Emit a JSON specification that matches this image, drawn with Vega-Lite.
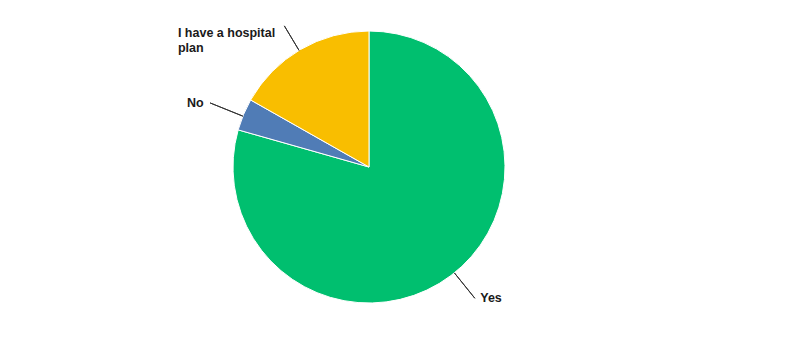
{
  "$schema": "https://vega.github.io/schema/vega-lite/v6.json",
  "width": 738,
  "height": 334,
  "padding": {"left": 0, "top": 0, "right": 52, "bottom": 17},
  "autosize": {"type": "none"},
  "background": "white",
  "config": {"view": {"stroke": null}},
  "datasets": {
    "slices": [
      {"answer": "Yes", "pct": 79.4, "ord": 1},
      {"answer": "No", "pct": 3.8, "ord": 2},
      {"answer": "I have a hospital plan", "pct": 16.8, "ord": 3}
    ],
    "labels": [
      {"answer": "Yes", "label": "Yes", "textAngle": 38.06, "textDist": 1.316, "lineAngle": 39.2, "lineFrom": 1.0, "lineTo": 1.24},
      {"answer": "No", "label": "No", "textAngle": 80.6, "textDist": 1.36, "lineAngle": 81.1, "lineFrom": 1.0, "lineTo": 1.26},
      {"answer": "I have a hospital plan", "label": "I have a hospital\nplan", "textAngle": 84.76, "textDist": 1.718, "lineAngle": 91.4, "lineFrom": 1.0, "lineTo": 1.21}
    ]
  },
  "layer": [
    {
      "data": {"name": "slices"},
      "mark": {"type": "arc", "outerRadius": 136, "stroke": "white", "strokeWidth": 1},
      "encoding": {
        "theta": {"field": "pct", "type": "quantitative", "stack": true, "scale": {"domain": [0, 100]}},
        "order": {"field": "ord", "type": "quantitative"},
        "color": {
          "field": "answer",
          "type": "nominal",
          "scale": {"domain": ["Yes", "No", "I have a hospital plan"], "range": ["#00BF6F", "#507CB6", "#F9BE00"]},
          "legend": null
        }
      }
    },
    {
      "data": {"name": "labels"},
      "mark": {"type": "arc", "stroke": "#333333", "strokeWidth": 1, "fill": null},
      "encoding": {
        "theta": {"field": "lineAngle", "type": "quantitative", "stack": null, "scale": {"domain": [0, 100]}},
        "theta2": {"field": "lineAngle"},
        "radius": {"field": "lineFrom", "type": "quantitative", "scale": {"type": "linear", "domain": [0, 1], "range": [0, 136], "zero": true}},
        "radius2": {"field": "lineTo"}
      }
    },
    {
      "data": {"name": "labels"},
      "transform": [{"filter": "datum.answer !== 'I have a hospital plan'"}],
      "mark": {"type": "text", "font": "Liberation Sans", "fontSize": 12.5, "fontWeight": "bold", "color": "#1a1a1a", "align": "center", "baseline": "middle"},
      "encoding": {
        "theta": {"field": "textAngle", "type": "quantitative", "stack": null, "scale": {"domain": [0, 100]}},
        "radius": {"field": "textDist", "type": "quantitative", "scale": {"type": "linear", "domain": [0, 1], "range": [0, 136], "zero": true}},
        "text": {"field": "label", "type": "nominal"}
      }
    },
    {
      "data": {"name": "labels"},
      "transform": [{"filter": "datum.answer === 'I have a hospital plan'"}],
      "mark": {"type": "text", "font": "Liberation Sans", "fontSize": 12.5, "fontWeight": "bold", "color": "#1a1a1a", "align": "left", "baseline": "middle", "lineBreak": "\n", "lineHeight": 15},
      "encoding": {
        "theta": {"field": "textAngle", "type": "quantitative", "stack": null, "scale": {"domain": [0, 100]}},
        "radius": {"field": "textDist", "type": "quantitative", "scale": {"type": "linear", "domain": [0, 1], "range": [0, 136], "zero": true}},
        "text": {"field": "label", "type": "nominal"}
      }
    }
  ]
}
